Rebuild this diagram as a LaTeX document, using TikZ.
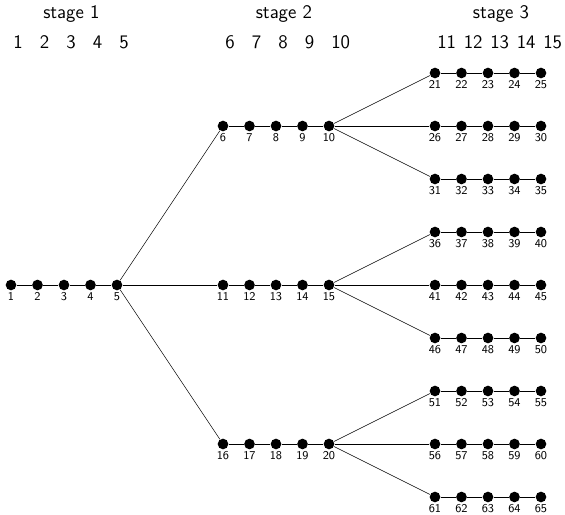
\documentclass[tikz,border=0pt]{standalone}
\begin{document}
\begin{tikzpicture}[x=0.7cm,y=0.7cm,thin,
    dot/.style={circle,fill,inner sep=0pt,minimum size=8pt},
    num/.style={font=\sffamily\small,inner sep=1pt},
    head/.style={font=\sffamily\Large,inner sep=1.5pt,anchor=base west},
    stagetitle/.style={font=\sffamily\Large,anchor=base}]
    \useasboundingbox (-0.415,-8.642) rectangle (20.906,10.755);
    % headings
    \node[stagetitle] (s1) at (2.28,10.04) {stage 1};
    \node[stagetitle] (s2) at (10.3,10.04) {stage 2};
    \node[stagetitle] (s3) at (18.49,10.04) {stage 3};
    \foreach \i in {1,...,5}
        \node[head] (h\i) at (\i-1,8.94) {\i};
    \foreach \i in {6,...,10}
        \node[head] (h\i) at (\i+2,8.94) {\i};
    \foreach \i in {11,...,15}
        \node[head] (h\i) at (\i+5,8.94) {\i};
    % stage 1
    \foreach \i in {1,...,5}
        \node[dot,label={[num]below:\i}] (n\i) at (\i-1,0) {};
    % stage 2
    \foreach \r/\y in {0/6,1/0,2/-6}
        \foreach \j in {0,...,4} {
            \pgfmathtruncatemacro\k{6+5*\r+\j}
            \node[dot,label={[num]below:\k}] (n\k) at (8+\j,\y) {};
        }
    % stage 3
    \foreach \r in {0,...,8}
        \foreach \j in {0,...,4} {
            \pgfmathtruncatemacro\k{21+5*\r+\j}
            \node[dot,label={[num]below:\k}] (n\k) at (16+\j,8-2*\r) {};
        }
    % rows
    \foreach \s in {1,6,...,61}
        \foreach \j in {0,...,3} {
            \pgfmathtruncatemacro\a{\s+\j}
            \pgfmathtruncatemacro\b{\s+\j+1}
            \draw (n\a) -- (n\b);
        }
    % branches
    \foreach \p/\q in {5/6,5/11,5/16,10/21,10/26,10/31,15/36,15/41,15/46,20/51,20/56,20/61}
        \draw (n\p) -- (n\q);
\end{tikzpicture}
\end{document}
